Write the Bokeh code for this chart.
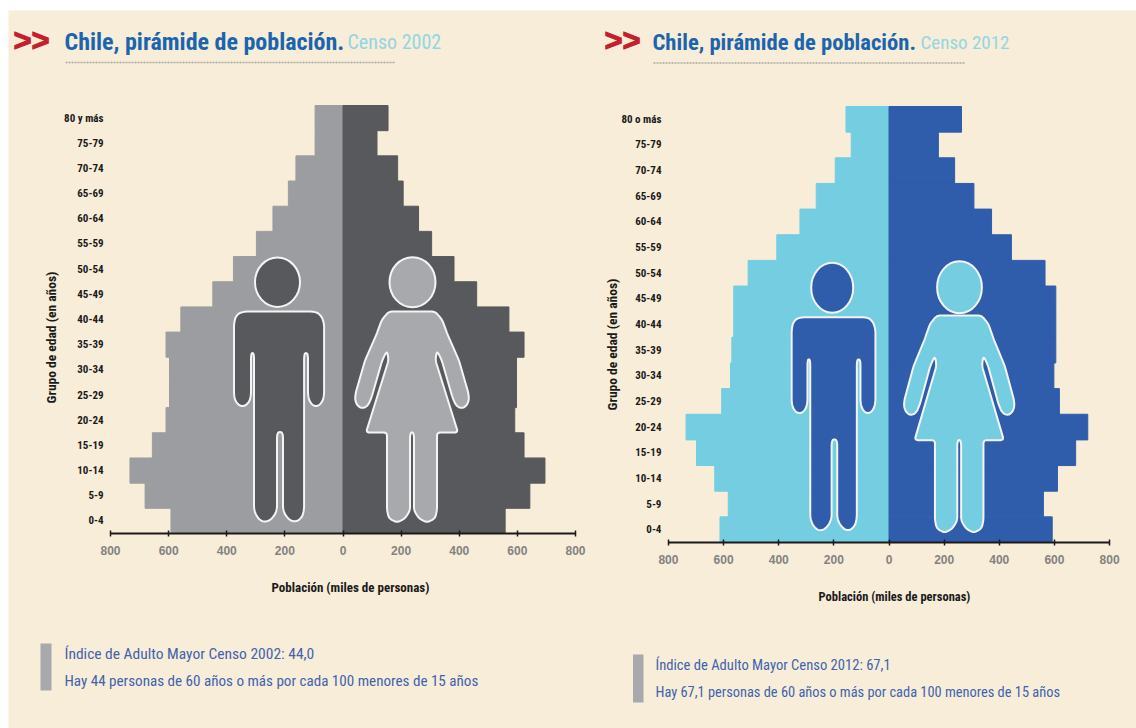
import math
from bokeh.embed import file_html
from bokeh.resources import INLINE
from bokeh.models import Label, FixedTicker, LinearAxis, Range1d
from bokeh.plotting import figure

groups_2002 = ["80 y más","75-79","70-74","65-69","60-64","55-59","50-54","45-49","40-44","35-39","30-34","25-29","20-24","15-19","10-14","5-9","0-4"]
groups_2012 = ["80 o más","75-79","70-74","65-69","60-64","55-59","50-54","45-49","40-44","35-39","30-34","25-29","20-24","15-19","10-14","5-9","0-4"]
left_2002 = [96,96,162,188,241,298,377,448,558,609,597,597,609,656,733,681,592]
right_2002 = [155,117,188,207,260,305,382,460,571,623,597,597,591,623,695,643,558]
left_2012 = [156,137,195,264,323,407,511,563,563,570,575,607,736,698,632,583,613]
right_2012 = [263,179,238,308,372,444,566,605,605,605,598,618,721,677,611,560,592]
x_ticks = [-800,-600,-400,-200,0,200,400,600,800]

CREAM = "#F8EDD8"
COND = "Roboto Condensed"
TITLE_BLUE = "#1B64AE"
CENSO = "#93D6E3"
TEXT_BLUE = "#3F63AE"
INK = "#1A1A1A"
OUTLINE = "#F4F4F4"
PX_L, PX_R, PX_T, PX_B = 8, 1136, 10, 728

MAN = [(243,311),(314,311),(320,314),(323.6,322),(323.6,396),(321,403),(315.5,406.5),(310,403),(307.5,396),(307.5,354),(305.5,352),(303.6,354),
       (303.6,510),(301,518),(294,522),(287,518),(282.5,510),(282.5,433),(279.5,431),(276.5,433),(276.5,510),(272,518),(265,522),(258,519),(253.5,510),
       (253.5,354),(252,352),(250.5,354),(250.5,396),(248,403),(242,406.5),(236,403),(233.5,396),(233.5,322),(236,314)]
WOMAN_HALF = [(23,311),(30,319),(36,335),(47,360),(56.5,393),(57,400),(54,406),(49,408),(44,405),(40.5,397),(29.8,360),(26,352),(24.5,352),(23.5,360),(46,432),
              (25,432),(25,510),(23,518),(15,522),(7,518),(2,510),(2,434),(0,431)]


def soften(pts, cut=2.5, rounds=2):
    for _ in range(rounds):
        out = []
        n = len(pts)
        for i in range(n):
            a, b, c = pts[i - 1], pts[i], pts[(i + 1) % n]
            for q in (a, c):
                d = math.hypot(q[0] - b[0], q[1] - b[1])
                t = min(cut, d * 0.3) / d if d else 0
                out.append((b[0] + (q[0] - b[0]) * t, b[1] + (q[1] - b[1]) * t))
        pts = out
        cut *= 0.6
    return pts


p = figure(width=PX_R - PX_L, height=PX_B - PX_T, x_range=(PX_L, PX_R), y_range=(PX_B, PX_T),
           x_axis_location=None, y_axis_location=None, toolbar_location=None, output_backend="svg",
           min_border=0, margin=(PX_T, 0, 0, PX_L), background_fill_color=CREAM, border_fill_color=CREAM,
           outline_line_color=None)
p.xgrid.visible = False
p.ygrid.visible = False


def lab(px, py, text, color, size, bold=False, align="left", angle=0, font=COND, outline=None):
    p.add_layout(Label(x=px, y=py, text=text, text_color=color, text_font=font, text_font_size=f"{size}px",
                       text_font_style="bold" if bold else "normal", text_align=align, text_baseline="middle", angle=angle,
                       text_outline_color=outline))


def panel(key, groups, lv, rv, x0, sx, top, bottom, c_left, c_right, c_man, c_woman, man_t, woman_t, head_m, head_w, t):
    sy = (bottom - top) / 17
    rx, ry = f"x{key}", f"y{key}"
    p.extra_x_ranges[rx] = Range1d((PX_L - x0) / sx, (PX_R - x0) / sx)
    p.extra_y_ranges[ry] = Range1d((bottom - PX_B) / sy, (bottom - PX_T) / sy)
    ys = [16.5 - i for i in range(17)]
    p.hbar(y=ys, left=[-v for v in lv], right=0, height=1.0, color=c_left, line_width=1, x_range_name=rx, y_range_name=ry)
    p.hbar(y=ys, left=0, right=rv, height=1.0, color=c_right, line_width=1, x_range_name=rx, y_range_name=ry)

    pts = soften([(man_t[0] + (a - 278.5) * man_t[1], man_t[2] + (b - 311) * man_t[3]) for a, b in MAN])
    p.patch([a for a, b in pts], [b for a, b in pts], fill_color=c_man, line_color=OUTLINE, line_width=2)
    p.ellipse([head_m[0]], [head_m[1]], width=2 * head_m[2], height=2 * head_m[3], fill_color=c_man, line_color=OUTLINE, line_width=2)
    half = [(a * woman_t[1], woman_t[2] + (b - 311) * woman_t[3]) for a, b in WOMAN_HALF]
    pts = soften([(woman_t[0] + a, b) for a, b in half] + [(woman_t[0] - a, b) for a, b in reversed(half[:-1])], cut=1.8)
    p.patch([a for a, b in pts], [b for a, b in pts], fill_color=c_woman, line_color=OUTLINE, line_width=2)
    p.ellipse([head_w[0]], [head_w[1]], width=2 * head_w[2], height=2 * head_w[3], fill_color=c_woman, line_color=OUTLINE, line_width=2)

    ax = LinearAxis(x_range_name=rx, y_range_name=ry, fixed_location=0, bounds=(-800, 800), ticker=FixedTicker(ticks=x_ticks),
                    major_label_overrides={v: str(abs(v)) for v in x_ticks})
    ax.level = "annotation"
    ax.axis_line_color = INK
    ax.axis_line_width = 2
    ax.major_tick_line_color = INK
    ax.major_tick_line_width = 1.5
    ax.major_tick_in = 3
    ax.major_tick_out = 3
    ax.minor_tick_line_color = None
    ax.major_label_text_color = "#828282"
    ax.major_label_text_font = "Liberation Sans"
    ax.major_label_text_font_style = "bold"
    ax.major_label_text_font_size = "12px"
    ax.major_label_standoff = t["xstand"]
    p.add_layout(ax, "below")

    ay = LinearAxis(x_range_name=rx, y_range_name=ry, fixed_location=-800, bounds=(0, 17), ticker=FixedTicker(ticks=ys),
                    major_label_overrides=dict(zip(ys, groups)))
    ay.axis_line_color = None
    ay.major_tick_line_color = None
    ay.minor_tick_line_color = None
    ay.major_label_text_color = INK
    ay.major_label_text_font = COND
    ay.major_label_text_font_style = "bold"
    ay.major_label_text_font_size = "11px"
    ay.major_label_standoff = t["ystand"]
    p.add_layout(ay, "left")

    lab(t["chev"][0], t["chev"][1], ">>", "#C4202B", 31, True, font="Liberation Sans", outline="#C4202B")
    lab(t["title"][0], t["title"][1], "Chile, pirámide de población.", TITLE_BLUE, t["tsize"], True)
    lab(t["censo"][0], t["title"][1], t["censo"][1], CENSO, t["censo"][2])
    x1, x2, yy = t["rule"]
    p.line([x1, x2], [yy, yy], line_color="#A9A9A6", line_width=1.5, line_dash="2 1")
    lab(t["xlab"][0], t["xlab"][1], "Población (miles de personas)", INK, t["xsize"], True, "center")
    lab(t["ylab"][0], t["ylab"][1], "Grupo de edad (en años)", INK, 13.5, True, "center", math.pi / 2)
    b = t["bar"]
    p.quad(left=[b[0]], right=[b[1]], top=[b[2]], bottom=[b[3]], fill_color="#A7A9AC", line_color=None)
    for tx, ty, s, fs in t["notes"]:
        lab(tx, ty, s, TEXT_BLUE, fs)


panel("02", groups_2002, left_2002, right_2002, 342.5, 0.2906, 105, 533, "#9C9DA0", "#58595C", "#58595C", "#A7A9AC",
      (278.5, 1, 311, 1), (411.5, 1, 311, 1), (277, 281.7, 22.5, 24.7), (412, 281.7, 23, 25),
      dict(chev=(13, 40), title=(64, 41), tsize=24, censo=(347, "Censo 2002", 20), rule=(65, 394, 62), xstand=9, ystand=1, xsize=13,
           xlab=(350, 587), ylab=(50, 337), bar=(40, 51, 643, 690),
           notes=[(64, 653, "Índice de Adulto Mayor Censo 2002: 44,0", 15.5),
                  (64, 680, "Hay 44 personas de 60 años o más por cada 100 menores de 15 años", 15.1)]))
panel("12", groups_2012, left_2012, right_2012, 888.5, 0.2757, 106, 542, "#74CDE1", "#2F5DAB", "#2F5DAB", "#74CDE1",
      (833, 0.93, 316.7, 1.014), (958.7, 0.97, 315, 1.03), (831.7, 287.3, 21, 25), (959, 286.7, 22.4, 26),
      dict(chev=(604, 40), title=(652, 42), tsize=22.6, censo=(920, "Censo 2012", 19), rule=(653, 964, 62.5), xstand=9, ystand=1, xsize=12.5,
           xlab=(894, 596), ylab=(611, 344), bar=(632.5, 643, 654, 702),
           notes=[(655, 664, "Índice de Adulto Mayor Censo 2012: 67,1", 14.6),
                  (655, 692, "Hay 67,1 personas de 60 años o más por cada 100 menores de 15 años", 14.4)]))

open("out.html", "w").write(file_html(p, INLINE))
